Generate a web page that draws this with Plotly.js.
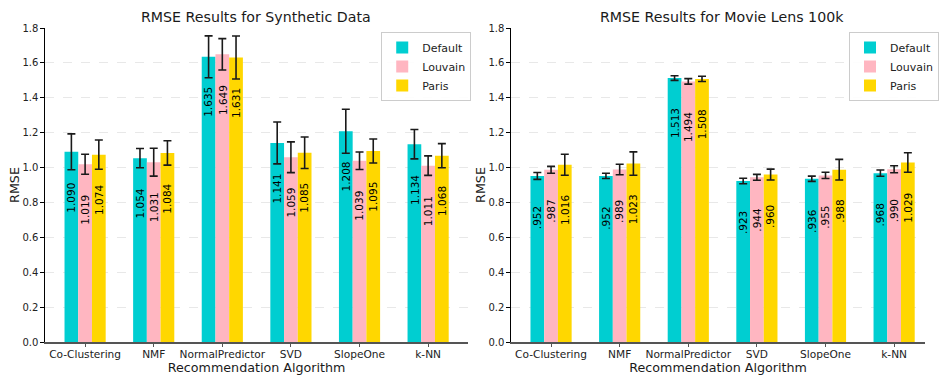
<!DOCTYPE html>
<html>
<head>
<meta charset="utf-8">
<script src="https://cdn.plot.ly/plotly-3.0.1.min.js"></script>
<style>html,body{margin:0;padding:0;background:#fff}#chart{width:939px;height:376px}</style>
</head>
<body>
<div id="chart"></div>
<script>
const categories = ["Co-Clustering", "NMF", "NormalPredictor", "SVD", "SlopeOne", "k-NN"];
const methods = ["Default", "Louvain", "Paris"];

const synDefault = [1.090, 1.054, 1.635, 1.141, 1.208, 1.134];
const synLouvain = [1.019, 1.031, 1.649, 1.059, 1.039, 1.011];
const synParis   = [1.074, 1.084, 1.631, 1.085, 1.095, 1.068];
const synDefaultErr = [0.103, 0.055, 0.120, 0.120, 0.126, 0.084];
const synLouvainErr = [0.057, 0.080, 0.090, 0.088, 0.050, 0.056];
const synParisErr   = [0.084, 0.070, 0.123, 0.090, 0.069, 0.069];

const mlDefault = [0.952, 0.952, 1.513, 0.923, 0.936, 0.968];
const mlLouvain = [0.987, 0.989, 1.494, 0.944, 0.955, 0.990];
const mlParis   = [1.016, 1.023, 1.508, 0.960, 0.988, 1.029];
const mlDefaultErr = [0.020, 0.015, 0.013, 0.016, 0.015, 0.018];
const mlLouvainErr = [0.020, 0.030, 0.016, 0.017, 0.018, 0.020];
const mlParisErr   = [0.060, 0.067, 0.015, 0.031, 0.059, 0.056];

const colors = ["#00CED1", "#FFB6C1", "#FFD700"];
const FONT = "DejaVu Sans, sans-serif";

const synSeries = [synDefault, synLouvain, synParis];
const synErrs = [synDefaultErr, synLouvainErr, synParisErr];
const mlSeries = [mlDefault, mlLouvain, mlParis];
const mlErrs = [mlDefaultErr, mlLouvainErr, mlParisErr];

const traces = [];
const annotations = [];
const offsets = [-0.2, 0, 0.2];
const LABEL_GAP = 0.163;

function fmt(v) { return v.toFixed(3).replace(/^0\./, "."); }

function addPanel(series, errs, xa, ya, legendId) {
  series.forEach((vals, i) => {
    traces.push({
      type: "bar", x: categories, y: vals, name: methods[i],
      xaxis: xa, yaxis: ya, legend: legendId,
      marker: {color: colors[i], line: {width: 0}},
      error_y: {type: "data", array: errs[i], visible: true, color: "#1a1a1a", thickness: 1.6, width: 4},
      hoverinfo: "y"
    });
    vals.forEach((v, j) => {
      annotations.push({
        xref: xa, yref: ya, x: j + offsets[i], y: v - LABEL_GAP,
        text: fmt(v), textangle: -90, showarrow: false,
        xanchor: "center", yanchor: "top",
        font: {family: FONT, size: 10.5, color: "#000"}
      });
    });
  });
}
addPanel(synSeries, synErrs, "x", "y", "legend");
addPanel(mlSeries, mlErrs, "x2", "y2", "legend2");

annotations.push({xref: "paper", yref: "paper", x: 260/939, y: 1 - 17/376, xanchor: "center", yanchor: "middle",
  text: "RMSE Results for Synthetic Data", showarrow: false, font: {family: FONT, size: 14.2, color: "#1a1a1a"}});
annotations.push({xref: "paper", yref: "paper", x: 733/939, y: 1 - 17/376, xanchor: "center", yanchor: "middle",
  text: "RMSE Results for Movie Lens 100k", showarrow: false, font: {family: FONT, size: 14.2, color: "#1a1a1a"}});

const yDomain = [(376 - 342) / 376, (376 - 28) / 376];

function xAxis(domain, range) {
  return {
    domain: domain, type: "category", range: range, showgrid: false, zeroline: false,
    showline: true, linecolor: "#555", linewidth: 1.8,
    ticks: "outside", ticklen: 3.5, tickcolor: "#555", tickwidth: 1,
    ticklabelstandoff: -2,
    tickfont: {family: FONT, size: 10.6, color: "#222"},
    title: {text: "Recommendation Algorithm", font: {family: FONT, size: 12.7, color: "#1a1a1a"}, standoff: 1},
    fixedrange: true
  };
}
function yAxis(anchor) {
  return {
    domain: yDomain, anchor: anchor, range: [0, 1.8], dtick: 0.2, tick0: 0, tickformat: ".1f",
    showgrid: true, gridcolor: "#e2e2e2", griddash: "dash", gridwidth: 0.8, zeroline: false,
    showline: true, linecolor: "#000", linewidth: 1.4,
    ticks: "outside", ticklen: 3.5, tickcolor: "#000", tickwidth: 1,
    tickfont: {family: FONT, size: 10, color: "#222"},
    title: {text: "RMSE", font: {family: FONT, size: 12.7, color: "#1a1a1a"}, standoff: 0},
    fixedrange: true
  };
}

const legendBase = {
  bgcolor: "rgba(255,255,255,0.9)", bordercolor: "#cccccc", borderwidth: 1,
  font: {family: FONT, size: 11, color: "#222"}, xanchor: "left", yanchor: "top",
  tracegroupgap: 0, itemwidth: 30
};

const layout = {
  width: 939, height: 376,
  margin: {l: 0, r: 0, t: 0, b: 0},
  paper_bgcolor: "#fff", plot_bgcolor: "#fff",
  barmode: "group", bargap: 0.4, bargroupgap: 0,
  showlegend: true,
  xaxis: Object.assign(xAxis([46/939, 475/939], [-0.58, 5.58]), {anchor: "y"}),
  yaxis: yAxis("x"),
  xaxis2: Object.assign(xAxis([519/939, 1], [-0.58, 5.45]), {anchor: "y2"}),
  yaxis2: yAxis("x2"),
  legend: Object.assign({}, legendBase, {x: 387/939, y: 1 - 32/376}),
  legend2: Object.assign({}, legendBase, {x: 862/939, y: 1 - 32/376}),
  annotations: annotations
};

Plotly.newPlot("chart", traces, layout, {displayModeBar: false, staticPlot: true});
</script>
</body>
</html>
